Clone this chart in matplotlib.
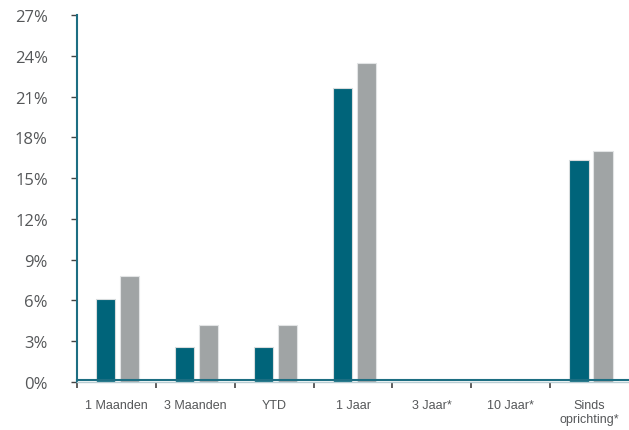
import matplotlib
matplotlib.use("Agg")
import matplotlib.pyplot as plt
import numpy as np

categories = ["1 Maanden", "3 Maanden", "YTD", "1 Jaar", "3 Jaar*", "10 Jaar*", "Sinds\noprichting*"]
fund = [6.1, 2.6, 2.6, 21.6, 0, 0, 16.3]
benchmark = [7.8, 4.2, 4.2, 23.5, 0, 0, 17.0]
yticks = [0, 3, 6, 9, 12, 15, 18, 21, 24, 27]

teal = "#00647A"
grey = "#A0A4A5"
axis_col = "#1D6E82"
text_col = "#555759"

fig = plt.figure(figsize=(6.29, 4.31), dpi=100)
ax = fig.add_axes([77 / 629, 1 - 383 / 431, 1 - 77 / 629, 367 / 431])

x = np.arange(len(categories))
w = 0.245
ax.bar(x - 0.135, fund, width=w, color=teal, edgecolor="#d8dcdd", linewidth=0.8, zorder=2)
ax.bar(x + 0.17, benchmark, width=w, color=grey, edgecolor="#e2e4e5", linewidth=0.8, zorder=2)

ax.set_xlim(-0.5, len(categories) - 0.5)
ax.set_ylim(0, 27)

for s in ["top", "right"]:
    ax.spines[s].set_visible(False)
ax.spines["left"].set_color(axis_col)
ax.spines["left"].set_linewidth(1.5)
ax.spines["bottom"].set_color("#b9cdd3")
ax.spines["bottom"].set_linewidth(1)
ax.axhline(0.15, color=axis_col, linewidth=1.5, zorder=3, clip_on=False)

ax.set_yticks(yticks)
ax.set_yticklabels([f"{v}%" for v in yticks], fontsize=12, color=text_col, family="Open Sans")
ax.tick_params(axis="y", length=4, width=1, color="#444444", pad=17)

ax.set_xticks(x)
ax.set_xticklabels(categories, fontsize=9, color=text_col, family="Liberation Sans", linespacing=1.25)
ax.tick_params(axis="x", which="major", length=0, pad=12)
ax.set_xticks(np.arange(len(categories)) - 0.5, minor=True)
ax.tick_params(axis="x", which="minor", length=4, width=1.2, color="#444444")

fig.savefig("out.png", dpi=100)
